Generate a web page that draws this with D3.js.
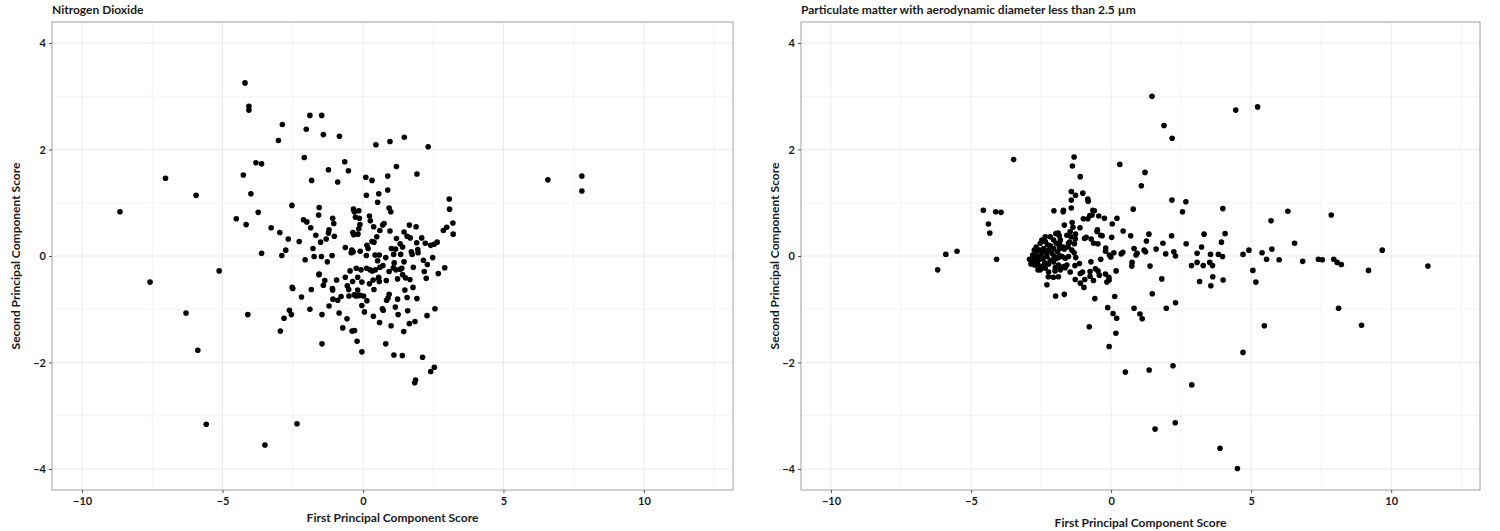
<!DOCTYPE html>
<html>
<head>
<meta charset="utf-8">
<script src="https://cdn.jsdelivr.net/npm/d3@7"></script>
<style>
  html, body { margin: 0; padding: 0; background: #fff; }
  svg { display: block; }
  text { font-family: "Lato", "Open Sans", sans-serif; font-weight: bold; fill: #1a1a1a; }
</style>
</head>
<body>
<svg id="chart" width="1500" height="531"></svg>
<script>
// ---------- Data ----------
const panelTitles = ["Nitrogen Dioxide", "Particulate matter with aerodynamic diameter less than 2.5 \u00b5m"];
const xAxisTitle = "First Principal Component Score";
const yAxisTitle = "Second Principal Component Score";
const xTicks = [-10, -5, 0, 5, 10];
const yTicks = [-4, -2, 0, 2, 4];
const xMinorTicks = [-7.5, -2.5, 2.5, 7.5, 12.5];
const yMinorTicks = [-3, -1, 1, 3];
const xDomain = [-11.07, 13.17];
const yDomain = [-4.394, 4.394];

// Nitrogen dioxide: [PC1, PC2]
const no2Points = [
[-8.65,0.83],[-7.58,-0.49],[-7.03,1.46],[-6.30,-1.07],[-5.94,1.14],[-5.88,-1.77],[-5.58,-3.16],[-5.12,-0.28],
[-4.51,0.70],[-4.26,1.52],[-4.20,3.25],[-4.16,0.59],[-4.10,-1.10],[-4.06,2.81],[-4.06,2.74],[-3.99,1.17],
[-3.81,1.75],[-3.73,0.82],[-3.61,1.73],[-3.61,0.05],[-3.49,-3.55],[-3.27,0.53],[-3.01,2.17],[-2.96,0.44],
[-2.94,-1.41],[-2.89,0.01],[-2.87,2.47],[-2.81,-1.17],[-2.75,0.11],[-2.66,0.32],[-2.62,-1.02],[-2.55,-1.10],
[-2.53,0.95],[-2.52,-0.59],[-2.50,-0.61],[-2.35,-3.15],[-2.27,0.27],[-2.19,-0.77],[-2.12,0.68],[-2.09,1.85],
[-2.06,-0.07],[-2.02,2.38],[-2.00,0.64],[-1.89,2.64],[-1.89,-1.00],[-1.86,0.53],[-1.84,-0.63],[-1.83,1.42],
[-1.78,0.14],[-1.74,-0.01],[-1.68,0.39],[-1.58,0.77],[-1.57,-0.35],[-1.56,0.91],[-1.56,-0.34],[-1.51,0.26],
[-1.48,-0.01],[-1.47,2.64],[-1.46,-1.10],[-1.46,-1.65],[-1.41,2.28],[-1.41,-0.55],[-1.36,-0.46],[-1.31,0.32],
[-1.27,-0.11],[-1.23,1.62],[-1.23,0.43],[-1.21,0.49],[-1.21,-0.94],[-1.10,0.01],[-1.09,-0.61],[-1.08,0.71],
[-1.08,-0.64],[-1.07,-0.81],[-1.04,0.61],[-1.02,0.37],[-0.94,-0.45],[-0.90,1.39],[-0.90,-0.83],[-0.85,-1.07],
[-0.84,2.25],[-0.78,-0.76],[-0.72,-1.35],[-0.65,1.77],[-0.63,0.16],[-0.63,-0.40],[-0.57,-1.18],[-0.56,-0.56],
[-0.52,1.60],[-0.51,-0.63],[-0.50,-0.75],[-0.46,-0.28],[-0.42,0.06],[-0.40,0.11],[-0.39,-1.41],[-0.37,-0.48],
[-0.36,0.44],[-0.35,0.08],[-0.34,0.88],[-0.33,0.40],[-0.31,0.83],[-0.31,-0.73],[-0.30,-1.40],[-0.27,0.73],
[-0.25,-0.75],[-0.24,-0.23],[-0.21,-1.60],[-0.19,-0.64],[-0.19,-0.40],[-0.18,0.41],[-0.17,-0.74],[-0.15,0.85],
[-0.15,0.51],[-0.13,0.71],[-0.11,0.59],[-0.11,-0.74],[-0.10,0.09],[-0.07,-0.26],[-0.04,-0.49],[-0.04,-0.93],
[-0.04,-1.80],[0.02,-0.75],[0.05,-1.05],[0.10,1.48],[0.12,1.14],[0.12,0.01],[0.13,-0.23],[0.14,0.20],
[0.14,-0.84],[0.18,0.14],[0.23,0.75],[0.23,-0.52],[0.25,-0.26],[0.26,0.66],[0.32,1.42],[0.32,0.27],
[0.33,-0.28],[0.36,-0.45],[0.37,-1.13],[0.38,0.55],[0.39,0.26],[0.39,-0.63],[0.43,0.02],[0.44,-0.26],
[0.46,2.09],[0.49,0.36],[0.52,1.01],[0.52,-0.09],[0.55,-0.42],[0.56,1.17],[0.56,-0.40],[0.58,0.02],
[0.58,-0.48],[0.59,-1.25],[0.60,0.48],[0.60,-0.21],[0.69,-0.99],[0.70,0.58],[0.71,-0.18],[0.72,-1.02],
[0.75,0.61],[0.81,-0.03],[0.81,-1.65],[0.83,-0.46],[0.84,-0.83],[0.88,1.50],[0.88,1.24],[0.89,-0.79],
[0.93,0.90],[0.93,-0.29],[0.93,-0.72],[0.96,2.15],[0.96,0.47],[0.99,0.83],[1.00,-1.31],[1.01,0.14],
[1.08,-0.22],[1.09,0.03],[1.10,-1.86],[1.11,-0.13],[1.15,-0.96],[1.16,0.13],[1.17,-0.26],[1.19,1.68],
[1.19,0.33],[1.23,-0.43],[1.23,-0.81],[1.25,-1.10],[1.32,0.23],[1.32,-0.25],[1.34,0.03],[1.38,-0.23],
[1.40,-1.87],[1.41,0.17],[1.41,-0.35],[1.45,-1.42],[1.46,0.45],[1.46,-0.11],[1.47,2.23],[1.49,-0.64],
[1.51,-0.41],[1.57,0.37],[1.57,-0.78],[1.59,-1.03],[1.65,0.58],[1.65,-1.27],[1.67,-0.44],[1.68,0.34],
[1.72,0.08],[1.75,0.03],[1.78,-0.59],[1.79,-0.21],[1.84,-2.38],[1.85,-1.23],[1.87,-2.33],[1.89,0.55],
[1.91,0.25],[1.92,1.54],[1.92,-0.80],[1.95,0.12],[1.96,0.06],[2.09,0.34],[2.12,-1.90],[2.15,-0.08],
[2.18,-0.29],[2.22,0.24],[2.25,-0.42],[2.28,-1.12],[2.29,-0.16],[2.32,2.05],[2.41,0.20],[2.41,-2.17],
[2.48,-0.03],[2.53,0.22],[2.54,-2.09],[2.56,-0.99],[2.64,0.26],[2.68,-0.33],[2.86,0.48],[2.91,-0.22],
[2.98,0.54],[3.07,1.07],[3.08,0.88],[3.20,0.62],[3.21,0.41],[6.58,1.43],[7.79,1.50],[7.79,1.22]
];

// PM2.5: [PC1, PC2]
const pmPoints = [
[-6.19,-0.26],[-5.90,0.03],[-5.50,0.09],[-4.56,0.86],[-4.38,0.60],[-4.33,0.43],[-4.12,0.83],[-3.93,0.82],
[-4.09,-0.06],[-3.48,1.81],
[-2.91,-0.06],[-2.86,-0.15],[-2.82,-0.11],[-2.80,0.02],[-2.76,-0.04],[-2.74,0.11],[-2.73,-0.17],[-2.70,0.05],
[-2.67,0.17],[-2.67,-0.09],[-2.64,-0.01],[-2.62,-0.15],[-2.61,-0.26],[-2.59,-0.20],[-2.56,0.11],[-2.55,-0.06],
[-2.53,0.24],[-2.53,-0.26],[-2.50,0.02],[-2.47,0.08],[-2.47,0.30],[-2.44,-0.19],[-2.43,-0.04],[-2.41,0.14],
[-2.37,-0.13],[-2.35,0.27],[-2.35,0.36],[-2.35,-0.23],[-2.31,0.06],[-2.29,-0.01],[-2.29,-0.54],[-2.27,0.21],
[-2.24,-0.39],[-2.23,0.11],[-2.23,-0.15],[-2.23,-0.30],[-2.17,0.19],[-2.17,0.36],[-2.17,-0.08],[-2.11,0.05],
[-2.06,-0.40],[-2.05,0.14],[-2.05,0.30],[-2.05,-0.11],[-2.04,0.85],[-2.03,-0.01],[-2.00,-0.28],[-1.99,-0.21],
[-1.98,-0.75],[-1.97,0.42],[-1.96,0.24],[-1.93,-0.04],[-1.91,0.08],[-1.89,0.43],[-1.88,-0.39],[-1.88,-0.17],
[-1.86,0.20],[-1.86,-0.02],[-1.85,0.38],[-1.84,0.23],[-1.83,0.14],[-1.81,0.30],[-1.81,0.00],[-1.81,-0.26],
[-1.75,-0.01],[-1.71,0.83],[-1.70,0.86],[-1.70,0.17],[-1.70,-0.20],[-1.67,0.58],[-1.67,0.13],[-1.67,-0.72],
[-1.64,-0.22],[-1.64,-0.04],[-1.58,0.39],[-1.58,-0.17],[-1.53,0.17],[-1.52,0.24],[-1.52,-0.01],[-1.48,0.26],
[-1.46,0.46],[-1.46,-0.30],[-1.43,0.36],[-1.42,1.21],[-1.42,1.05],[-1.42,0.90],[-1.40,0.11],[-1.39,0.63],
[-1.38,1.69],[-1.36,0.54],[-1.32,1.86],[-1.32,0.06],[-1.31,0.23],[-1.29,-0.18],[-1.28,0.32],[-1.28,-0.44],
[-1.27,1.14],[-1.27,0.41],[-1.26,-0.03],[-1.13,-0.14],[-1.11,0.53],[-1.10,1.49],[-1.10,-0.33],[-1.10,-0.51],
[-1.02,-0.30],[-1.01,1.18],[-0.99,0.70],[-0.97,-0.59],[-0.95,0.33],[-0.94,-0.44],[-0.89,0.35],[-0.83,1.07],
[-0.83,0.70],[-0.82,1.03],[-0.78,-1.33],[-0.76,0.76],[-0.75,-0.38],[-0.75,-0.29],[-0.72,-0.11],[-0.71,0.32],
[-0.68,0.77],[-0.65,0.86],[-0.63,-0.46],[-0.62,0.24],[-0.60,0.85],[-0.58,-0.80],[-0.56,-0.24],[-0.50,0.46],
[-0.49,0.49],[-0.47,0.23],[-0.47,-0.28],[-0.44,0.75],[-0.42,-0.36],[-0.37,-0.06],[-0.37,0.39],[-0.32,0.38],
[-0.24,0.71],[-0.20,0.09],[-0.20,-0.34],[-0.19,0.15],[-0.15,-0.49],[-0.12,-0.97],[-0.08,-0.40],[-0.07,-0.45],
[-0.07,-1.70],[-0.06,0.02],[-0.01,-0.02],[0.02,0.35],[0.04,0.60],[0.07,-1.08],[0.10,0.06],[0.13,-0.76],
[0.17,-1.45],[0.18,-0.28],[0.20,-1.17],[0.21,0.71],[0.31,1.72],[0.36,0.04],[0.42,0.07],[0.43,0.47],
[0.51,-2.18],[0.70,0.38],[0.74,-0.19],[0.75,-0.12],[0.79,0.88],[0.82,0.14],[0.82,-0.98],[0.89,0.02],
[0.93,0.05],[1.03,-1.09],[1.08,1.32],[1.11,-1.18],[1.18,0.11],[1.21,1.57],[1.23,0.08],[1.26,0.28],
[1.35,0.41],[1.36,-2.14],[1.39,-0.19],[1.46,3.00],[1.47,-0.71],[1.57,-3.25],[1.61,0.13],[1.81,-0.43],
[1.85,0.24],[1.89,2.45],[1.95,0.04],[1.97,-0.98],[2.16,0.38],[2.17,1.05],[2.18,2.21],[2.21,-2.06],
[2.24,0.08],[2.29,-3.13],[2.30,0.00],[2.30,-0.88],[2.55,0.83],[2.67,1.02],[2.68,0.23],[2.87,-0.18],
[2.88,-2.42],[3.07,0.05],[3.07,-0.12],[3.16,-0.48],[3.23,0.17],[3.29,-0.18],[3.32,0.41],[3.52,-0.12],
[3.55,0.03],[3.56,-0.56],[3.62,-0.18],[3.63,-0.39],[3.83,0.03],[3.89,-3.61],[3.94,0.26],[3.98,-0.01],
[3.99,0.89],[4.00,-0.45],[4.07,0.42],[4.45,2.74],[4.51,-3.99],[4.71,0.03],[4.71,-1.81],[4.92,0.11],
[5.06,-0.27],[5.17,-0.49],[5.23,2.80],[5.39,0.06],[5.47,-1.31],[5.55,-0.06],[5.71,0.66],[5.74,0.13],
[6.00,-0.07],[6.31,0.84],[6.55,0.24],[6.84,-0.10],[7.40,-0.06],[7.54,-0.07],[7.86,0.77],[7.95,-0.06],
[8.07,-0.12],[8.12,-0.98],[8.22,-0.16],[8.94,-1.30],[9.19,-0.27],[9.68,0.11],[11.31,-0.19]
];

// ---------- Layout ----------
const svg = d3.select("#chart");
const panels = [
  { title: panelTitles[0], data: no2Points, left: 52, right: 733, top: 22, bottom: 490, yTitleX: 16, xTitleY: 522 },
  { title: panelTitles[1], data: pmPoints, left: 801, right: 1480, top: 22, bottom: 490, yTitleX: 775, xTitleY: 527 }
];

panels.forEach(p => {
  const x = d3.scaleLinear().domain(xDomain).range([p.left, p.right]);
  const y = d3.scaleLinear().domain(yDomain).range([p.bottom, p.top]);
  const g = svg.append("g");

  // minor grid
  g.selectAll(".vminor").data(xMinorTicks.filter(v => v > xDomain[0] && v < xDomain[1])).join("line")
    .attr("x1", d => x(d)).attr("x2", d => x(d)).attr("y1", p.top).attr("y2", p.bottom)
    .attr("stroke", "#f4f4f4").attr("stroke-width", 1);
  g.selectAll(".hminor").data(yMinorTicks).join("line")
    .attr("x1", p.left).attr("x2", p.right).attr("y1", d => y(d)).attr("y2", d => y(d))
    .attr("stroke", "#f4f4f4").attr("stroke-width", 1);
  // major grid
  g.selectAll(".vmajor").data(xTicks).join("line")
    .attr("x1", d => x(d)).attr("x2", d => x(d)).attr("y1", p.top).attr("y2", p.bottom)
    .attr("stroke", "#ebebeb").attr("stroke-width", 1);
  g.selectAll(".hmajor").data(yTicks).join("line")
    .attr("x1", p.left).attr("x2", p.right).attr("y1", d => y(d)).attr("y2", d => y(d))
    .attr("stroke", "#ebebeb").attr("stroke-width", 1);

  // points
  g.selectAll("circle").data(p.data).join("circle")
    .attr("cx", d => x(d[0])).attr("cy", d => y(d[1])).attr("r", 2.8)
    .attr("fill", "#000");

  // border
  g.append("rect").attr("x", p.left).attr("y", p.top)
    .attr("width", p.right - p.left).attr("height", p.bottom - p.top)
    .attr("fill", "none").attr("stroke", "#a0a0a0").attr("stroke-width", 1);

  // axes
  const xAxis = d3.axisBottom(x).tickValues(xTicks).tickSize(3).tickPadding(4).tickFormat(d3.format("d"));
  const yAxis = d3.axisLeft(y).tickValues(yTicks).tickSize(3).tickPadding(3).tickFormat(d3.format("d"));
  const gx = g.append("g").attr("transform", `translate(0,${p.bottom})`).call(xAxis);
  const gy = g.append("g").attr("transform", `translate(${p.left},0)`).call(yAxis);
  [gx, gy].forEach(a => {
    a.select(".domain").remove();
    a.selectAll(".tick line").attr("stroke", "#555");
    a.selectAll(".tick text").attr("font-size", 11).attr("font-family", "Lato, sans-serif")
      .attr("font-weight", "bold").attr("fill", "#1a1a1a");
  });

  // titles
  g.append("text").attr("x", p.left).attr("y", 14).attr("font-size", 12).text(p.title);
  g.append("text").attr("x", (p.left + p.right) / 2).attr("y", p.xTitleY)
    .attr("text-anchor", "middle").attr("font-size", 12).text(xAxisTitle);
  g.append("text").attr("transform", `translate(${p.yTitleX},${(p.top + p.bottom) / 2}) rotate(-90)`)
    .attr("text-anchor", "middle").attr("dy", "0.35em").attr("font-size", 12).text(yAxisTitle);
});
</script>
</body>
</html>
